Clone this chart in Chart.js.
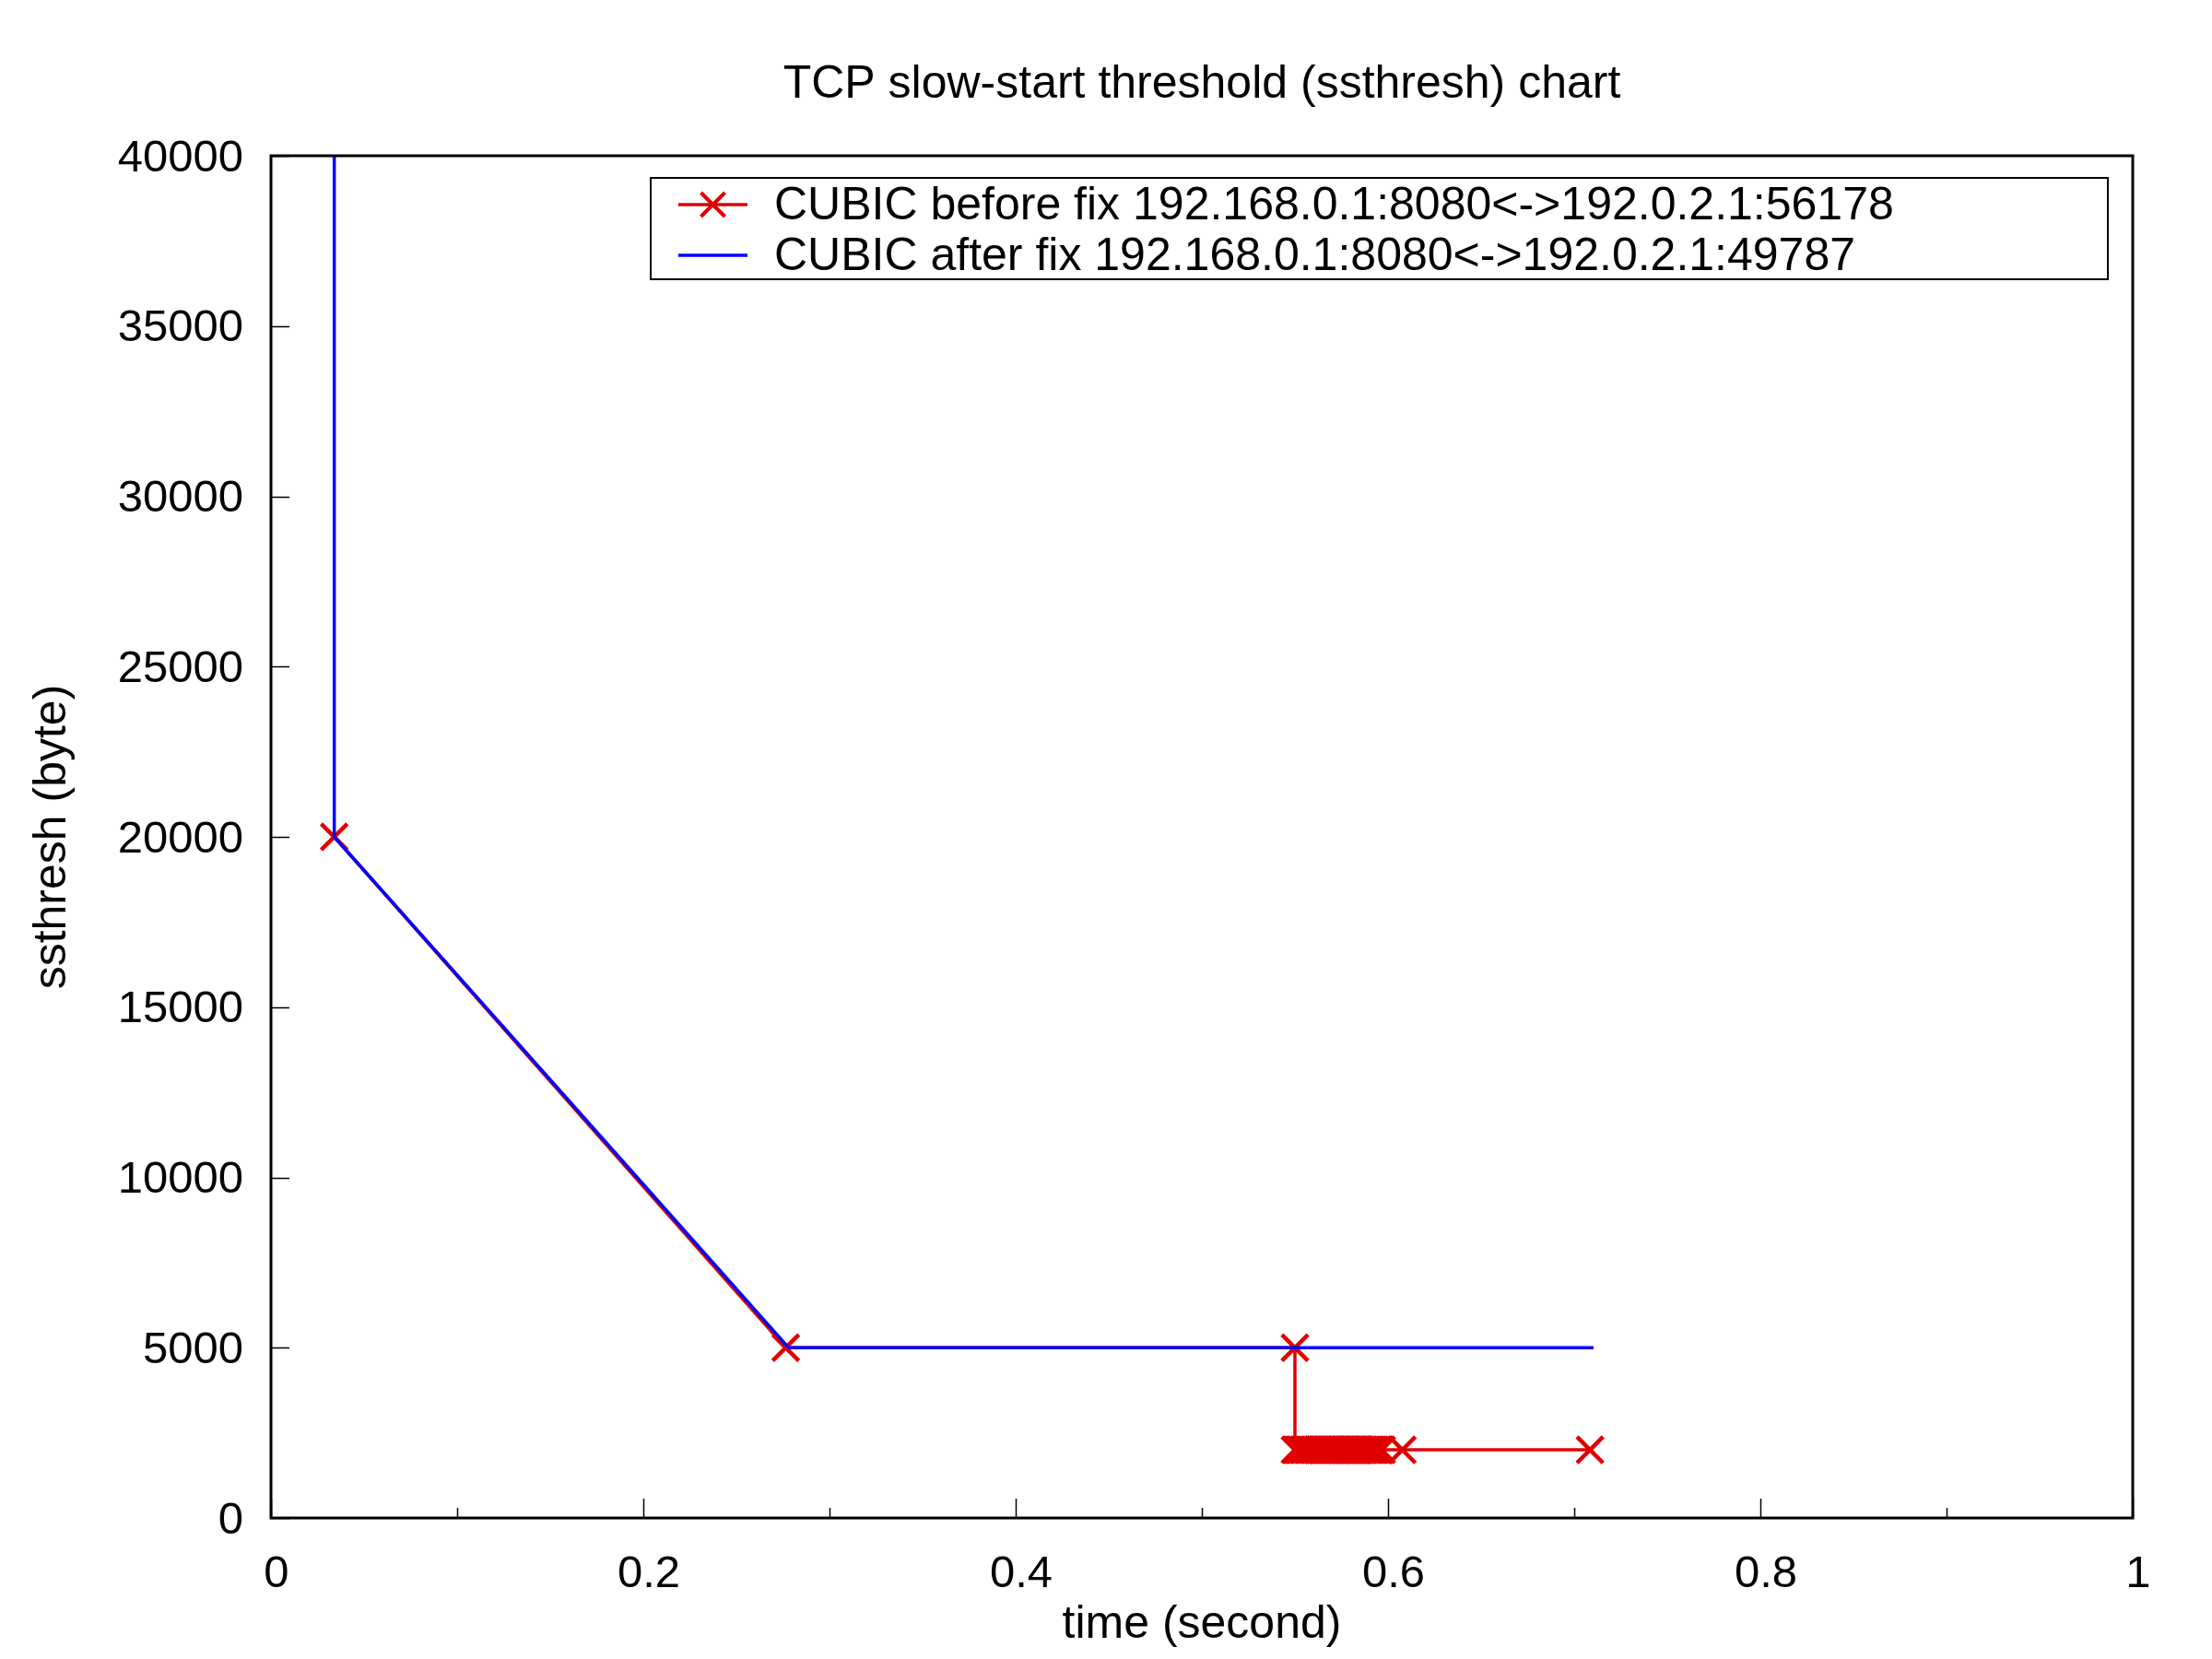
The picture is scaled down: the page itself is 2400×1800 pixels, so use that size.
<!DOCTYPE html>
<html>
<head>
<meta charset="utf-8">
<script src="https://cdn.jsdelivr.net/npm/chart.js@4.4.1/dist/chart.umd.min.js"></script>
<style>
  html, body { margin: 0; padding: 0; background: #ffffff; }
  #wrap { width: 2400px; height: 1800px; }
</style>
</head>
<body>
<div id="wrap"><canvas id="c" width="2400" height="1800"></canvas></div>
<script>
// ---- Data ----
const chartTitle = 'TCP slow-start threshold (ssthresh) chart';
const xAxisTitle = 'time (second)';
const yAxisTitle = 'ssthresh (byte)';

const beforeLabel = 'CUBIC before fix 192.168.0.1:8080<->192.0.2.1:56178';
const beforeX = [0.0340, 0.2765, 0.5500, 0.5500, 0.5510, 0.5522, 0.5531, 0.5545, 0.5553, 0.5568, 0.5577,
                 0.5589, 0.5602, 0.5611, 0.5625, 0.5634, 0.5648, 0.5660, 0.5671, 0.5683, 0.5695,
                 0.5704, 0.5718, 0.5729, 0.5741, 0.5752, 0.5766, 0.5775, 0.5789, 0.5801, 0.5813,
                 0.5822, 0.5836, 0.5847, 0.5858, 0.5870, 0.5883, 0.5895, 0.5906, 0.5918, 0.5930,
                 0.5944, 0.5955, 0.5966, 0.6077, 0.7085];
const beforeY = [20000, 5000, 5000, 2000, 2000, 2000, 2000, 2000, 2000, 2000, 2000,
                 2000, 2000, 2000, 2000, 2000, 2000, 2000, 2000, 2000, 2000,
                 2000, 2000, 2000, 2000, 2000, 2000, 2000, 2000, 2000, 2000,
                 2000, 2000, 2000, 2000, 2000, 2000, 2000, 2000, 2000, 2000,
                 2000, 2000, 2000, 2000, 2000];

const afterLabel = 'CUBIC after fix 192.168.0.1:8080<->192.0.2.1:49787';
const afterX = [0.0340, 0.0340, 0.2780, 0.7104];
const afterY = [2147483647, 20000, 5000, 5000];

const xMajorTicks = [0, 0.2, 0.4, 0.6, 0.8, 1];
const xMinorTicks = [0.1, 0.3, 0.5, 0.7, 0.9];
const yTicks = [0, 5000, 10000, 15000, 20000, 25000, 30000, 35000, 40000];

const redColor = '#e00000';
const blueColor = '#0000ff';
const FONT = "'Liberation Sans', Arial, Helvetica, sans-serif";

function toPoints(xs, ys) { return xs.map((x, i) => ({ x: x, y: ys[i] })); }

function drawX(ctx, cx, cy, h) {
  ctx.beginPath();
  ctx.moveTo(cx - h, cy - h); ctx.lineTo(cx + h, cy + h);
  ctx.moveTo(cx - h, cy + h); ctx.lineTo(cx + h, cy - h);
  ctx.stroke();
}

const framePlugin = {
  id: 'gnuplotFrame',
  afterDraw(chart) {
    const ctx = chart.ctx;
    const a = chart.chartArea;
    const xs = chart.scales.x, ys = chart.scales.y;
    ctx.save();
    // ticks (inside)
    ctx.strokeStyle = '#000';
    ctx.lineWidth = 1.5;
    ctx.beginPath();
    yTicks.forEach(v => {
      const p = Math.round(ys.getPixelForValue(v)) + 0.5;
      ctx.moveTo(a.left, p); ctx.lineTo(a.left + 20, p);
    });
    xMajorTicks.forEach(v => {
      const p = Math.round(xs.getPixelForValue(v)) + 0.5;
      ctx.moveTo(p, a.bottom); ctx.lineTo(p, a.bottom - 21);
    });
    xMinorTicks.forEach(v => {
      const p = Math.round(xs.getPixelForValue(v)) + 0.5;
      ctx.moveTo(p, a.bottom); ctx.lineTo(p, a.bottom - 11);
    });
    ctx.stroke();
    // frame
    ctx.lineWidth = 3;
    ctx.strokeRect(a.left, a.top, a.right - a.left, a.bottom - a.top);

    // title
    ctx.fillStyle = '#000';
    ctx.font = '50px ' + FONT;
    ctx.textAlign = 'center';
    ctx.textBaseline = 'middle';
    ctx.fillText(chartTitle, (a.left + a.right) / 2, 92);

    // legend box
    const lx = 706, ly = 193, lw = 1581, lh = 110;
    ctx.lineWidth = 2;
    ctx.strokeRect(lx, ly, lw, lh);
    const rows = [
      { ds: chart.data.datasets[0], y: 222 },
      { ds: chart.data.datasets[1], y: 277 }
    ];
    rows.forEach(r => {
      ctx.strokeStyle = r.ds.borderColor;
      ctx.lineWidth = 3.5;
      ctx.beginPath();
      ctx.moveTo(736, r.y); ctx.lineTo(811, r.y);
      ctx.stroke();
      if (r.ds.pointRadius > 0) {
        ctx.lineWidth = 4;
        drawX(ctx, 773.5, r.y, 13);
      }
      ctx.fillStyle = '#000';
      ctx.font = '50px ' + FONT;
      ctx.textAlign = 'left';
      ctx.textBaseline = 'middle';
      ctx.fillText(r.ds.label, 840, r.y + 2);
    });
    ctx.restore();
  }
};

new Chart(document.getElementById('c'), {
  type: 'scatter',
  data: {
    datasets: [
      {
        label: beforeLabel,
        data: toPoints(beforeX, beforeY),
        showLine: true,
        borderColor: redColor,
        backgroundColor: redColor,
        borderWidth: 3.5,
        pointStyle: 'crossRot',
        pointRadius: 20,
        pointBorderWidth: 4.5,
        pointBorderColor: redColor,
        pointHoverRadius: 20,
        tension: 0,
        order: 2
      },
      {
        label: afterLabel,
        data: toPoints(afterX, afterY),
        showLine: true,
        borderColor: blueColor,
        backgroundColor: blueColor,
        borderWidth: 3.5,
        pointRadius: 0,
        pointHoverRadius: 0,
        tension: 0,
        order: 1
      }
    ]
  },
  options: {
    responsive: false,
    animation: false,
    devicePixelRatio: 1,
    layout: { padding: { top: 169, right: 86, bottom: 0, left: 0 } },
    plugins: {
      legend: { display: false },
      title: { display: false },
      tooltip: { enabled: false }
    },
    scales: {
      x: {
        type: 'linear',
        min: 0, max: 1,
        grid: { display: false },
        border: { display: false },
        afterFit(scale) { scale.height = 153; },
        afterBuildTicks(scale) { scale.ticks = xMajorTicks.map(v => ({ value: v })); },
        ticks: {
          color: '#000',
          font: { family: FONT, size: 49 },
          padding: 24,
          labelOffset: 6,
          maxRotation: 0,
          autoSkip: false,
          callback: v => String(v)
        },
        title: {
          display: true,
          text: xAxisTitle,
          color: '#000',
          font: { family: FONT, size: 50 },
          padding: { top: 0, bottom: 7 }
        }
      },
      y: {
        type: 'linear',
        min: 0, max: 40000,
        grid: { display: false },
        border: { display: false },
        afterFit(scale) { scale.width = 294; },
        afterBuildTicks(scale) { scale.ticks = yTicks.map(v => ({ value: v })); },
        ticks: {
          color: '#000',
          font: { family: FONT, size: 49 },
          padding: 22,
          labelOffset: 3,
          autoSkip: false,
          callback: v => String(v)
        },
        title: {
          display: true,
          text: yAxisTitle,
          color: '#000',
          font: { family: FONT, size: 50 },
          padding: { top: 27, bottom: 0 }
        }
      }
    }
  },
  plugins: [framePlugin]
});
</script>
</body>
</html>
